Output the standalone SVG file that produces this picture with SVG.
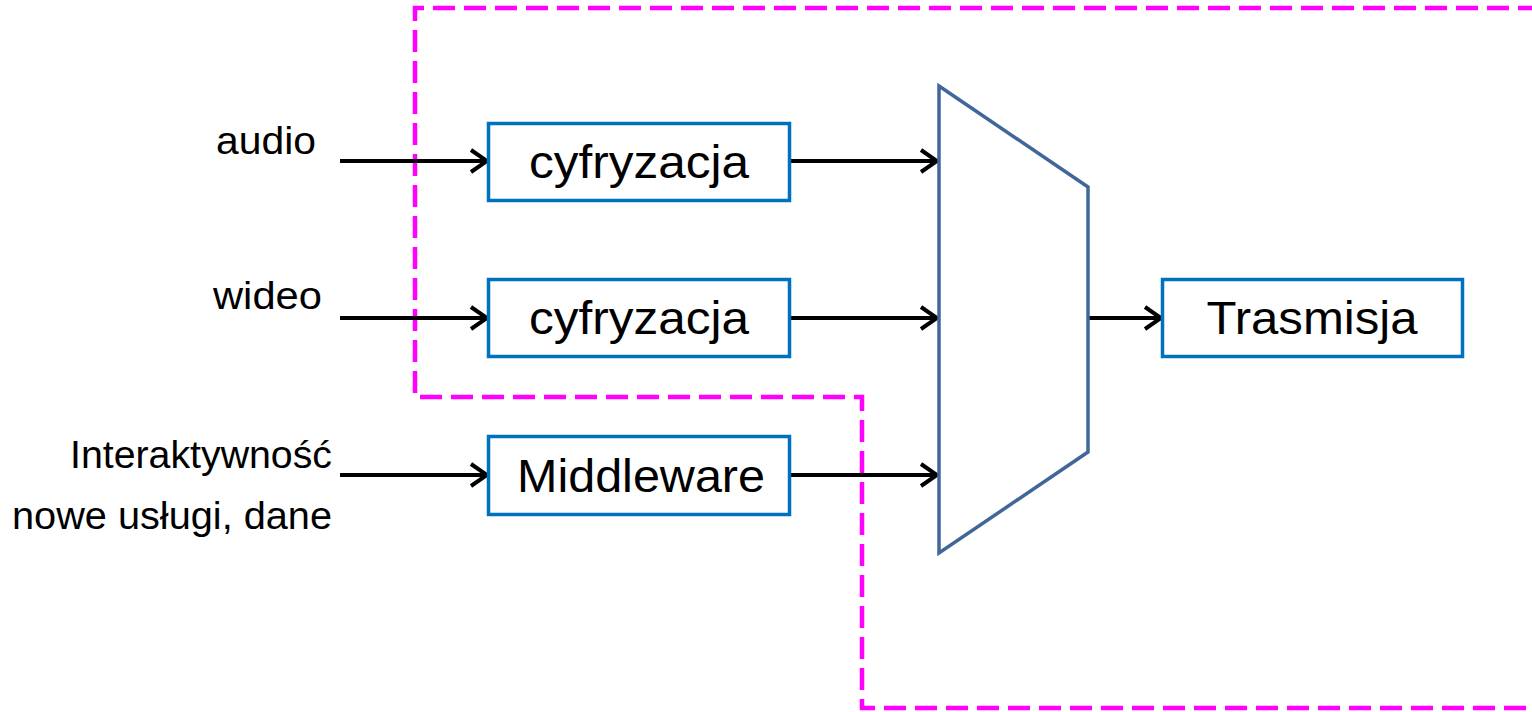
<svg xmlns="http://www.w3.org/2000/svg" width="1532" height="712" viewBox="0 0 1532 712">
  <style>
    .box { fill: #ffffff; stroke: #0070C0; stroke-width: 3.5; }
    .lbl { font-family: "Liberation Sans", Arial, sans-serif; font-size: 46px; fill: #000; text-anchor: middle; }
    .in { font-family: "Liberation Sans", Arial, sans-serif; font-size: 38px; fill: #000; text-anchor: end; }
    .wire { stroke: #000; stroke-width: 4; fill: none; marker-end: url(#arr); }
    .zone { fill: none; stroke: #FF00FF; stroke-width: 4.5; stroke-dasharray: 22 9; }
  </style>
  <defs>
    <marker id="arr" viewBox="0 0 22 26" refX="19" refY="13" markerWidth="22" markerHeight="26" markerUnits="userSpaceOnUse" orient="auto">
      <path d="M3,2 L19,13 L3,24" fill="none" stroke="#000" stroke-width="4"/>
    </marker>
  </defs>
  <rect width="1532" height="712" fill="#ffffff"/>

  <!-- dashed boundary of the digital block -->
  <path class="zone" d="M1540,8 L415,8 L415,397 L862,397 L862,708 L1540,708"/>

  <g id="connectors">
    <line class="wire" x1="340" y1="161" x2="487" y2="161"/>
    <line class="wire" x1="340" y1="318" x2="487" y2="318"/>
    <line class="wire" x1="340" y1="475" x2="487" y2="475"/>
    <line class="wire" x1="790" y1="161" x2="937" y2="161"/>
    <line class="wire" x1="790" y1="318" x2="937" y2="318"/>
    <line class="wire" x1="790" y1="475" x2="937" y2="475"/>
    <line class="wire" x1="1088" y1="318" x2="1161" y2="318"/>
  </g>

  <g id="label-audio"><text class="in" x="316" y="154" textLength="100" lengthAdjust="spacingAndGlyphs">audio</text></g>
  <g id="label-wideo"><text class="in" x="322" y="309" textLength="109" lengthAdjust="spacingAndGlyphs">wideo</text></g>
  <g id="label-inter">
    <text class="in" x="332" y="468" textLength="262" lengthAdjust="spacingAndGlyphs">Interaktywność</text>
    <text class="in" x="332" y="529" textLength="320" lengthAdjust="spacingAndGlyphs">nowe usługi, dane</text>
  </g>

  <g id="cyfryzacja-audio">
    <rect class="box" x="488.5" y="123.5" width="301" height="77"/>
    <text class="lbl" x="639" y="178" textLength="220" lengthAdjust="spacingAndGlyphs">cyfryzacja</text>
  </g>
  <g id="cyfryzacja-wideo">
    <rect class="box" x="488.5" y="279.5" width="301" height="77"/>
    <text class="lbl" x="639" y="334" textLength="220" lengthAdjust="spacingAndGlyphs">cyfryzacja</text>
  </g>
  <g id="middleware">
    <rect class="box" x="488.5" y="436.5" width="301" height="78"/>
    <text class="lbl" x="641" y="492" textLength="248" lengthAdjust="spacingAndGlyphs">Middleware</text>
  </g>

  <g id="multiplexer">
    <polygon points="939,86 1088,187 1088,452 939,553" fill="#ffffff" stroke="#41679A" stroke-width="3.5" stroke-linejoin="miter"/>
  </g>

  <g id="trasmisja">
    <rect class="box" x="1162.5" y="279.5" width="300" height="77"/>
    <text class="lbl" x="1312" y="334" textLength="211" lengthAdjust="spacingAndGlyphs">Trasmisja</text>
  </g>
</svg>
